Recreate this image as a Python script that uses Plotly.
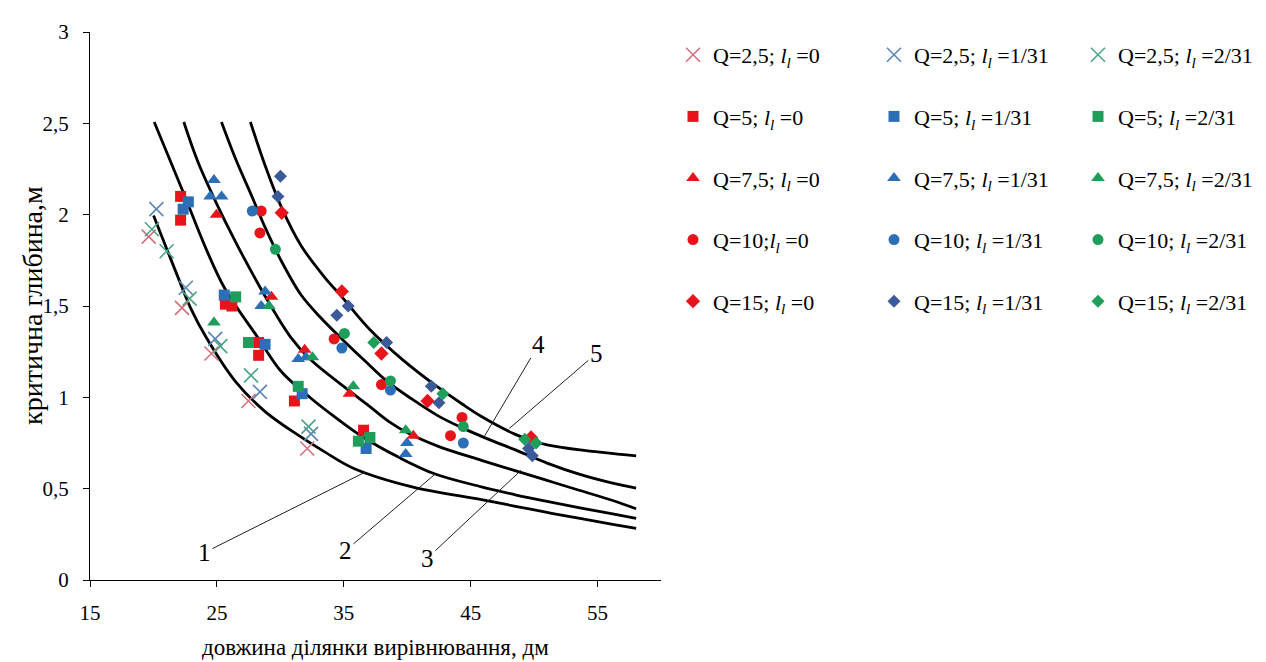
import plotly.graph_objects as go

# ---------------- data ----------------
# experimental points: Q = 2.5 (x-marks)
q25_l0_x = [19.63, 22.25, 24.57, 27.49, 32.12]
q25_l0_y = [1.88, 1.49, 1.24, 0.98, 0.72]
q25_l1_x = [20.23, 22.55, 24.87, 28.39, 32.42]
q25_l1_y = [2.03, 1.60, 1.32, 1.03, 0.80]
q25_l2_x = [19.88, 21.04, 22.85, 25.27, 27.69, 32.22]
q25_l2_y = [1.92, 1.80, 1.54, 1.28, 1.12, 0.84]

# Q = 5 (squares)
q5_l0_x = [22.14, 22.14, 25.67, 26.18, 28.29, 28.29, 31.11, 36.56]
q5_l0_y = [2.10, 1.97, 1.51, 1.50, 1.30, 1.23, 0.98, 0.82]
q5_l1_x = [22.34, 22.75, 25.58, 28.8, 31.72, 36.76]
q5_l1_y = [2.03, 2.07, 1.56, 1.29, 1.02, 0.72]
q5_l2_x = [26.48, 27.49, 31.41, 36.15, 37.06]
q5_l2_y = [1.55, 1.30, 1.06, 0.76, 0.78]

# Q = 7.5 (triangles)
q75_l0_x = [24.97, 29.3, 31.92, 35.45, 40.48]
q75_l0_y = [2.00, 1.55, 1.26, 1.02, 0.79]
q75_l1_x = [24.77, 24.47, 25.37, 28.8, 28.49, 31.41, 32.02, 39.98, 39.88]
q75_l1_y = [2.19, 2.10, 2.10, 1.58, 1.50, 1.21, 1.22, 0.75, 0.69]
q75_l2_x = [24.77, 29.1, 32.53, 35.75, 39.88]
q75_l2_y = [1.41, 1.50, 1.22, 1.06, 0.82]

# Q = 10 (circles)
q10_l0_x = [28.49, 28.39, 34.24, 37.97, 44.32, 43.41]
q10_l0_y = [2.02, 1.90, 1.32, 1.07, 0.89, 0.79]
q10_l1_x = [27.79, 34.85, 38.68, 44.42]
q10_l1_y = [2.02, 1.27, 1.04, 0.75]
q10_l2_x = [29.61, 35.05, 38.68, 44.42]
q10_l2_y = [1.81, 1.35, 1.09, 0.84]

# Q = 15 (diamonds)
q15_l0_x = [30.11, 34.85, 37.97, 41.6, 49.76]
q15_l0_y = [2.01, 1.58, 1.24, 0.98, 0.78]
q15_l1_x = [30.01, 29.81, 35.35, 34.45, 38.37, 41.9, 42.5, 49.86, 49.56]
q15_l1_y = [2.21, 2.10, 1.50, 1.45, 1.30, 1.06, 0.97, 0.68, 0.72]
q15_l2_x = [37.36, 42.81, 49.26, 50.16]
q15_l2_y = [1.30, 1.02, 0.77, 0.75]

# theoretical curves 1..5
curve1_x = [20.01, 21.04, 22.08, 22.95, 24.14, 26.47, 28.8, 31.38, 33.46, 35.75, 40.38, 45.85, 48.43, 51.02, 53.61, 56.19, 58.04]
curve1_y = [1.996, 1.814, 1.632, 1.486, 1.33, 1.086, 0.922, 0.794, 0.703, 0.612, 0.51, 0.44, 0.405, 0.37, 0.337, 0.305, 0.282]
curve2_x = [20.06, 22.34, 24.14, 25.67, 28.28, 30.09, 32.41, 34.34, 36.56, 39.38, 42.2, 45.85, 48.43, 51.02, 53.61, 56.19, 58.04]
curve2_y = [2.507, 2.124, 1.814, 1.59, 1.322, 1.14, 0.995, 0.89, 0.78, 0.67, 0.58, 0.51, 0.468, 0.43, 0.395, 0.362, 0.338]
curve3_x = [22.39, 23.51, 24.92, 26.47, 28.02, 29.06, 30.81, 32.33, 35.55, 36.86, 38.5, 40.18, 42.5, 45.85, 48.43, 51.02, 53.61, 56.19, 58.04]
curve3_y = [2.507, 2.288, 2.069, 1.851, 1.650, 1.523, 1.33, 1.21, 1.03, 0.96, 0.87, 0.80, 0.73, 0.655, 0.60, 0.545, 0.49, 0.435, 0.39]
curve4_x = [25.36, 26.47, 27.76, 28.8, 30.09, 31.64, 33.13, 34.85, 36.66, 38.37, 40.38, 42.4, 44.42, 46.43, 48.43, 51.02, 53.61, 56.19, 58.04]
curve4_y = [2.507, 2.306, 2.10, 1.93, 1.745, 1.56, 1.44, 1.32, 1.20, 1.09, 0.99, 0.90, 0.83, 0.77, 0.715, 0.64, 0.578, 0.53, 0.503]
curve5_x = [27.64, 28.8, 30.09, 31.64, 33.46, 34.85, 37.07, 39.65, 42.23, 44.3, 45.85, 48.43, 49.73, 51.02, 53.61, 58.04]
curve5_y = [2.507, 2.269, 2.04, 1.83, 1.66, 1.55, 1.37, 1.205, 1.065, 0.965, 0.895, 0.80, 0.765, 0.74, 0.712, 0.679]

# curve labels: (text, label x, label y, leader end x, leader end y)
curve_labels = [("1", 24.02, 0.15, 36.67, 0.59), ("2", 35.13, 0.16, 42.2, 0.58),
                ("3", 41.59, 0.12, 48.96, 0.60), ("4", 50.37, 1.29, 46.11, 0.79),
                ("5", 54.9, 1.24, 48.05, 0.83)]

x_ticks = [15, 25, 35, 45, 55]
y_ticks = [0, 0.5, 1, 1.5, 2, 2.5, 3]

# ---------------- figure ----------------
FONT = "Liberation Serif, Times New Roman, serif"
RED, BLUE, GREEN = "#e8141c", "#2c6fb7", "#1e9e5a"
RED_X, BLUE_X, GREEN_X = "#d4707e", "#5b86b5", "#4ba585"
NAVY = "#3b5a9a"

W, H = 1266, 662
PL, PR, PT, PB = 82, 662, 22, 572   # plot area in pixels


def px_x(p):
    return (p - PL) / (PR - PL)


def px_y(p):
    return (PB - p) / (PB - PT)


fig = go.Figure()

for cx, cy in [(curve1_x, curve1_y), (curve2_x, curve2_y), (curve3_x, curve3_y),
               (curve4_x, curve4_y), (curve5_x, curve5_y)]:
    fig.add_trace(go.Scatter(x=cx, y=cy, mode="lines", showlegend=False,
                             line=dict(color="black", width=2.8, shape="spline", smoothing=1.0),
                             hoverinfo="skip"))

L = "<i>l<sub>l</sub></i>"
series = [
    (q25_l0_x, q25_l0_y, f"Q=2,5; {L} =0", "x-thin", RED_X, 14, "legend"),
    (q5_l0_x, q5_l0_y, f"Q=5; {L} =0", "square", RED, 11, "legend"),
    (q75_l0_x, q75_l0_y, f"Q=7,5; {L} =0", "triangle-up", RED, 12, "legend"),
    (q10_l0_x, q10_l0_y, f"Q=10;{L} =0", "circle", RED, 11, "legend"),
    (q15_l0_x, q15_l0_y, f"Q=15; {L} =0", "diamond", RED, 11, "legend"),
    (q25_l1_x, q25_l1_y, f"Q=2,5; {L} =1/31", "x-thin", BLUE_X, 14, "legend2"),
    (q5_l1_x, q5_l1_y, f"Q=5; {L} =1/31", "square", BLUE, 11, "legend2"),
    (q75_l1_x, q75_l1_y, f"Q=7,5; {L} =1/31", "triangle-up", BLUE, 12, "legend2"),
    (q10_l1_x, q10_l1_y, f"Q=10; {L} =1/31", "circle", BLUE, 11, "legend2"),
    (q15_l1_x, q15_l1_y, f"Q=15; {L} =1/31", "diamond", NAVY, 10, "legend2"),
    (q25_l2_x, q25_l2_y, f"Q=2,5; {L} =2/31", "x-thin", GREEN_X, 14, "legend3"),
    (q5_l2_x, q5_l2_y, f"Q=5; {L} =2/31", "square", GREEN, 11, "legend3"),
    (q75_l2_x, q75_l2_y, f"Q=7,5; {L} =2/31", "triangle-up", GREEN, 12, "legend3"),
    (q10_l2_x, q10_l2_y, f"Q=10; {L} =2/31", "circle", GREEN, 11, "legend3"),
    (q15_l2_x, q15_l2_y, f"Q=15; {L} =2/31", "diamond", GREEN, 10, "legend3"),
]
for i, (sx, sy, name, sym, col, size, lg) in enumerate(series):
    if sym == "x-thin":
        marker = dict(symbol=sym, size=size, color=col, line=dict(color=col, width=1.6))
    else:
        marker = dict(symbol=sym, size=size, color=col, line=dict(width=0))
    fig.add_trace(go.Scatter(x=sx, y=sy, mode="markers", name=name, marker=marker,
                             legend=lg, legendgroup=f"g{i}"))

leg_common = dict(xref="container", yref="container", xanchor="left", yanchor="top",
                  font=dict(family=FONT, size=22, color="black"), bgcolor="rgba(0,0,0,0)",
                  tracegroupgap=30, itemsizing="trace")
LEG_TOP = 26
fig.update_layout(
    legend=dict(x=665 / W, y=1 - LEG_TOP / H, **leg_common),
    legend2=dict(x=866 / W, y=1 - LEG_TOP / H, **leg_common),
    legend3=dict(x=1070 / W, y=1 - LEG_TOP / H, **leg_common),
)

fig.update_xaxes(range=[15, 60], tickvals=x_ticks, ticks="outside", ticklen=6, tickcolor="black",
                 showline=True, linecolor="black", linewidth=1.2, showgrid=False, zeroline=False,
                 ticklabelstandoff=8,
                 tickfont=dict(family=FONT, size=21, color="black"))
fig.update_yaxes(range=[0, 3], tickvals=y_ticks, ticks="outside", ticklen=6, tickcolor="black",
                 showline=True, linecolor="black", linewidth=1.2, showgrid=False, zeroline=False,
                 ticklabelstandoff=10,
                 tickfont=dict(family=FONT, size=21, color="black"))

ann = [
    dict(text="довжина ділянки вирівнювання, дм", xref="paper", yref="paper",
         x=0.5, y=px_y(640), xanchor="center", yanchor="middle", showarrow=False,
         font=dict(family=FONT, size=23, color="black")),
    dict(text="критична глибина,м", xref="paper", yref="paper", textangle=-90,
         x=px_x(23), y=px_y(296), xanchor="center", yanchor="middle", showarrow=False,
         font=dict(family=FONT, size=28, color="black")),
]
for t, tx, ty, px, py in curve_labels:
    ann.append(dict(text=t, x=px, y=py, ax=tx, ay=ty, xref="x", yref="y", axref="x", ayref="y",
                    showarrow=True, arrowhead=0, arrowwidth=1, arrowcolor="#222222",
                    standoff=0, startstandoff=0,
                    font=dict(family=FONT, size=25, color="black")))

fig.update_layout(
    width=W, height=H, autosize=False,
    margin=dict(l=PL, r=W - PR, t=PT, b=H - PB),
    plot_bgcolor="white", paper_bgcolor="white",
    separators=", ",
    annotations=ann,
)

fig.write_html("out.html")
